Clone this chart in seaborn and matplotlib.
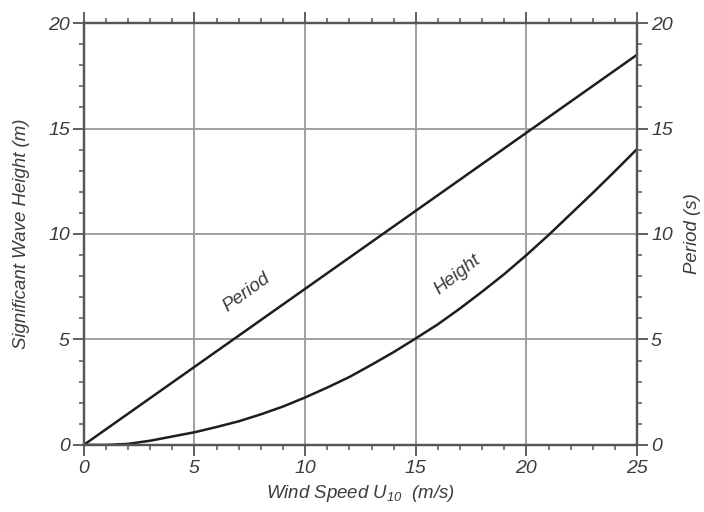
import numpy as np
import pandas as pd
import matplotlib
matplotlib.use("Agg")
import matplotlib.pyplot as plt
import seaborn as sns

# data
wind_h = [0, 1, 2, 3, 4, 5, 6, 7, 8, 9, 10, 11, 12, 13, 14, 15, 16, 17, 18, 19, 20, 21, 22, 23, 24, 25]
height = [0, 0.0, 0.05, 0.2, 0.4, 0.6, 0.85, 1.12, 1.45, 1.82, 2.25, 2.72, 3.22, 3.8, 4.4, 5.05,
          5.72, 6.47, 7.27, 8.1, 9.0, 9.95, 10.95, 11.95, 12.98, 14.03]
wind_p = [0, 5, 10, 15, 20, 25]
period = [0, 3.7, 7.4, 11.1, 14.8, 18.5]
major_ticks_x = [0, 5, 10, 15, 20, 25]
major_ticks_y = [0, 5, 10, 15, 20]

sns.set_style("white")
plt.rcParams['font.family'] = ['Liberation Sans', 'DejaVu Sans']
plt.rcParams['font.style'] = 'italic'
plt.rcParams['mathtext.fontset'] = 'custom'
plt.rcParams['mathtext.rm'] = 'Liberation Sans:italic'
plt.rcParams['mathtext.it'] = 'Liberation Sans:italic'

TXT = '#3c3c3c'
AX = '#555555'

df_h = pd.DataFrame({'wind': wind_h, 'value': height})
df_p = pd.DataFrame({'wind': wind_p, 'value': period})

fig = plt.figure(figsize=(7.04, 5.12), dpi=100)
ax = fig.add_axes([0.119, 0.131, 0.786, 0.824])

# grid
for v in major_ticks_x[1:-1]:
    ax.axvline(v, color='#a0a0a0', lw=1.4, zorder=0)
for v in major_ticks_y[1:-1]:
    ax.axhline(v, color='#a0a0a0', lw=1.4, zorder=0)

sns.lineplot(data=df_p, x='wind', y='value', ax=ax, color='#1e1e1e', lw=1.8)
sns.lineplot(data=df_h, x='wind', y='value', ax=ax, color='#1e1e1e', lw=1.8)

ax.set_xlim(0, 25)
ax.set_ylim(0, 20)
ax.set_xticks(major_ticks_x)
ax.set_yticks(major_ticks_y)
ax.set_xticks(np.arange(0, 26, 1), minor=True)
ax.set_yticks(np.arange(0, 21, 1), minor=True)

for s in ax.spines.values():
    s.set_color(AX)
    s.set_linewidth(1.6)

ax.tick_params(which='major', direction='out', length=8, width=1.3, color=AX,
               labelsize=14, labelcolor=TXT, top=True, bottom=True, left=True, right=False)
ax.tick_params(which='minor', direction='out', length=3.5, width=1.1, color=AX,
               top=True, bottom=True, left=True, right=False)
ax.tick_params(axis='x', pad=3)
ax.tick_params(axis='y', pad=2)

ax2 = ax.twinx()
ax2.set_ylim(0, 20)
ax2.set_yticks(major_ticks_y)
ax2.set_yticks(np.arange(0, 21, 1), minor=True)
for s in ax2.spines.values():
    s.set_color(AX)
    s.set_linewidth(1.6)
ax2.tick_params(which='major', direction='out', length=8, width=1.3, color=AX,
                labelsize=14, labelcolor=TXT, pad=2)
ax2.tick_params(which='minor', direction='out', length=3.5, width=1.1, color=AX)

ax.set_xlabel(r'Wind Speed $U_{10}$  (m/s)', fontsize=13.4, color=TXT, labelpad=4)
ax.set_ylabel('Significant Wave Height (m)', fontsize=13.4, color=TXT, labelpad=13)
ax2.set_ylabel('Period (s)', fontsize=13.4, color=TXT, labelpad=8)

ax.text(7.35, 7.25, 'Period', fontsize=13.5, color=TXT, rotation=36, ha='center', va='center')
ax.text(16.9, 8.05, 'Height', fontsize=13.5, color=TXT, rotation=38, ha='center', va='center')

fig.savefig('out.png', dpi=100)
